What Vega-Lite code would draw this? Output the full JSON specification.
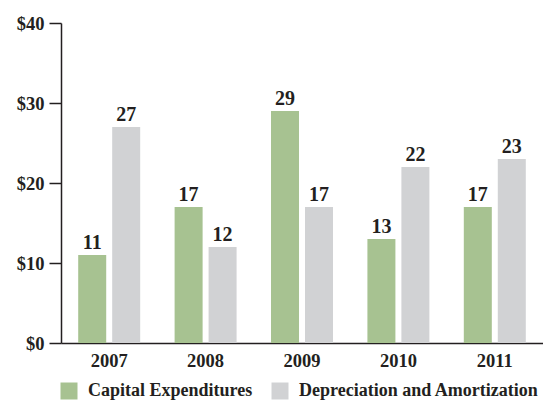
{
  "$schema": "https://vega.github.io/schema/vega-lite/v6.json",
  "width": 482,
  "height": 320,
  "autosize": {"type": "none"},
  "padding": {"left": 61, "top": 23, "right": 0, "bottom": 58},
  "background": "white",
  "config": {
    "view": {"stroke": null},
    "font": "Liberation Serif",
    "axis": {"labelFont": "Liberation Serif", "labelColor": "#231f20", "domainColor": "#231f20", "tickColor": "#231f20", "grid": false, "title": null},
    "legend": {"labelFont": "Liberation Serif", "labelColor": "#231f20"}
  },
  "data": {
    "values": [
      {"year": "2007", "series": "Capital Expenditures", "value": 11},
      {"year": "2007", "series": "Depreciation and Amortization", "value": 27},
      {"year": "2008", "series": "Capital Expenditures", "value": 17},
      {"year": "2008", "series": "Depreciation and Amortization", "value": 12},
      {"year": "2009", "series": "Capital Expenditures", "value": 29},
      {"year": "2009", "series": "Depreciation and Amortization", "value": 17},
      {"year": "2010", "series": "Capital Expenditures", "value": 13},
      {"year": "2010", "series": "Depreciation and Amortization", "value": 22},
      {"year": "2011", "series": "Capital Expenditures", "value": 17},
      {"year": "2011", "series": "Depreciation and Amortization", "value": 23}
    ]
  },
  "encoding": {
    "x": {
      "field": "year", "type": "nominal",
      "scale": {"paddingInner": 0.357, "paddingOuter": 0.1785},
      "axis": {"labelAngle": 0, "ticks": false, "labelFontSize": 18.5, "labelFontWeight": "bold", "labelPadding": 8, "domainWidth": 1.5}
    },
    "xOffset": {
      "field": "series", "type": "nominal",
      "scale": {"paddingInner": 0.176, "paddingOuter": 0}
    },
    "y": {
      "field": "value", "type": "quantitative",
      "scale": {"domain": [0, 40]},
      "axis": {"values": [0, 10, 20, 30, 40], "labelExpr": "'$' + datum.value", "tickSize": 12, "labelFontSize": 18.5, "labelFontWeight": "bold", "labelPadding": 5, "domainWidth": 1.5, "tickWidth": 1.5}
    }
  },
  "layer": [
    {
      "mark": {"type": "bar"},
      "encoding": {
        "color": {
          "field": "series", "type": "nominal",
          "scale": {"domain": ["Capital Expenditures", "Depreciation and Amortization"], "range": ["#a7c291", "#d1d2d4"]},
          "legend": {
            "orient": "none", "legendX": -1, "legendY": 359, "direction": "horizontal", "title": null,
            "symbolType": "square", "symbolSize": 289, "symbolStrokeWidth": 0, "symbolOpacity": 1,
            "labelFontSize": 18, "labelFontWeight": "bold", "labelOffset": 10, "columnPadding": 18, "labelLimit": 400
          }
        }
      }
    },
    {
      "mark": {"type": "text", "baseline": "alphabetic", "dy": -6, "fontSize": 20, "fontWeight": "bold", "color": "#231f20"},
      "encoding": {"text": {"field": "value", "type": "quantitative"}}
    }
  ]
}
